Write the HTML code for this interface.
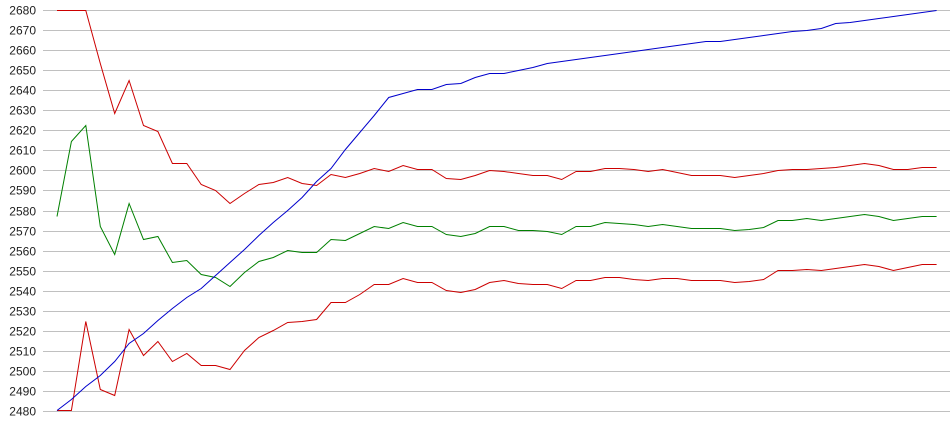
<!DOCTYPE html>
<html><head><meta charset="utf-8"><style>
html,body{margin:0;padding:0;background:#fff;}
svg{display:block;}
text{font-family:"Liberation Sans",Arial,sans-serif;font-size:12px;fill:#222;}
</style></head><body>
<svg id="s" width="950" height="435" xmlns="http://www.w3.org/2000/svg">
<g id="grid" shape-rendering="crispEdges" stroke="#c0c0c0" stroke-width="1"></g>
<g id="labels"></g>
<g id="series" fill="none" stroke-width="1"></g>
</svg>
<script>
var ns="http://www.w3.org/2000/svg";
var g=document.getElementById('grid'),lb=document.getElementById('labels'),se=document.getElementById('series');
for(var k=0;k<=20;k++){
  var y=Math.round(10+20.05*k)+0.5;
  var l=document.createElementNS(ns,'line');
  l.setAttribute('x1',43);l.setAttribute('x2',950);l.setAttribute('y1',y);l.setAttribute('y2',y);
  g.appendChild(l);
  var t=document.createElementNS(ns,'text');
  t.setAttribute('x',36);t.setAttribute('y',y+4);t.setAttribute('text-anchor','end');
  t.textContent=2680-10*k;lb.appendChild(t);
}
var data=[
["#cc0000",[10,10,10,63,113,80,125,131,163,163,184,190,203,193,184,182,177,183,185,174,177,173,168,171,165,169,169,178,179,175,170,171,173,175,175,179,171,171,168,168,169,171,169,172,175,175,175,177,175,173,170,169,169,168,167,165,163,165,169,169,167,167]],
["#008000",[216,141,125,226,254,203,239,236,262,260,274,277,286,272,261,257,250,252,252,239,240,233,226,228,222,226,226,234,236,233,226,226,230,230,231,234,226,226,222,223,224,226,224,226,228,228,228,230,229,227,220,220,218,220,218,216,214,216,220,218,216,216]],
["#cc0000",[410,410,321,389,395,329,355,341,361,353,365,365,369,350,337,330,322,321,319,302,302,294,284,284,278,282,282,290,292,289,282,280,283,284,284,288,280,280,277,277,279,280,278,278,280,280,280,282,281,279,270,270,269,270,268,266,264,266,270,267,264,264]],
["#0000cc",[410,399,386,375,361,343,333,320,308,297,288,275,262,249,235,222,210,197,181,168,149,132,115,97,93,89,89,84,83,77,73,73,70,67,63,61,59,57,55,53,51,49,47,45,43,41,41,39,37,35,33,31,30,28,23,22,20,18,16,14,12,10]]
];
data.forEach(function(d){
  var p=d[1].map(function(v,i){return (57+14.42*i).toFixed(1)+','+(v+0.5);}).join(' ');
  var pl=document.createElementNS(ns,'polyline');
  pl.setAttribute('points',p);pl.setAttribute('stroke',d[0]);
  se.appendChild(pl);
});
</script>
</body></html>
